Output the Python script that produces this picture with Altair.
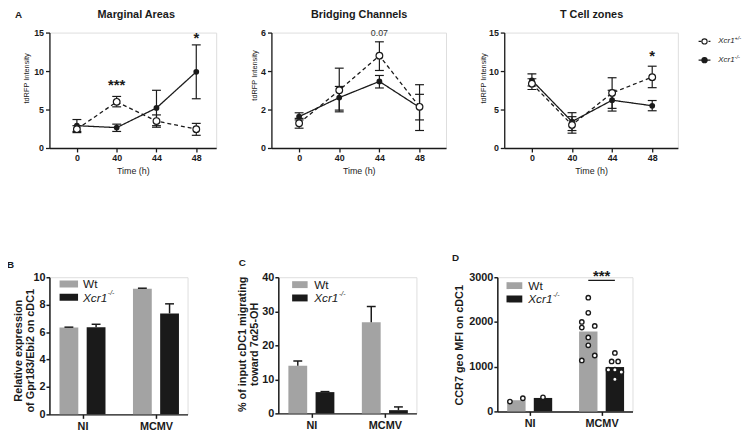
import json
import altair as alt
import pandas as pd

FONT = "Liberation Sans"
INK = "#1a1a1a"
GREY = "#a3a3a3"

# ---------------- Panel A data ----------------
TIME_LABELS = ["0", "40", "44", "48"]
SERIES = ["Xcr1+/-", "Xcr1-/-"]

ma_het_mean = [2.45, 6.0, 3.5, 2.45]
ma_het_low = [2.0, 5.35, 2.7, 1.65]
ma_het_high = [2.9, 6.7, 4.3, 3.2]
ma_ko_mean = [2.9, 2.65, 5.2, 9.9]
ma_ko_low = [2.15, 2.15, 2.9, 6.4]
ma_ko_high = [3.7, 3.1, 7.5, 13.4]

bc_het_mean = [1.29, 3.0, 4.8, 2.14]
bc_het_low = [1.03, 1.88, 4.03, 0.91]
bc_het_high = [1.54, 4.15, 5.52, 3.29]
bc_ko_mean = [1.63, 2.62, 3.46, 2.11]
bc_ko_low = [1.46, 1.97, 3.12, 1.46]
bc_ko_high = [1.83, 3.2, 3.77, 2.79]

tc_het_mean = [8.36, 3.0, 7.16, 9.21]
tc_het_low = [7.6, 1.93, 5.15, 7.84]
tc_het_high = [9.0, 4.07, 9.13, 10.63]
tc_ko_mean = [8.79, 3.43, 6.21, 5.49]
tc_ko_low = [8.06, 2.27, 4.8, 4.84]
tc_ko_high = [9.64, 4.59, 7.5, 6.17]

ma_notes = ["***", "*"]
ma_note_time = [1, 3]
ma_note_val = [8.7, 14.8]
bc_notes = ["0.07"]
bc_note_time = [2]
bc_note_val = [5.95]
tc_notes = ["*"]
tc_note_time = [3]
tc_note_val = [12.4]

# ---------------- Panels B-D data ----------------
GROUPS = ["NI", "MCMV"]
GENOS = ["Wt", "Xcr1-/-"]
# order: NI-Wt, NI-Xcr1, MCMV-Wt, MCMV-Xcr1
b_mean = [6.33, 6.35, 9.16, 7.36]
b_sem = [0.03, 0.22, 0.04, 0.70]
c_mean = [14.0, 6.25, 26.8, 0.95]
c_sem = [1.4, 0.15, 4.6, 0.95]
d_mean = [250, 301, 1786, 992]
d_ni_wt = [220, 294]
d_ni_ko = [316]
d_mcmv_wt = [2543, 2205, 2000, 1911, 1874, 1654, 1477, 1250, 1139]
d_mcmv_ko = [1308, 1117, 1117, 933, 933, 882, 720]
# column of each dot inside its bar (-1 left, 0 centre, +1 right)
d_ni_wt_col = [-1, 1]
d_ni_ko_col = [0]
d_mcmv_wt_col = [0, 0, -1, 1, -1, 0, 0, 1, -1]
d_mcmv_ko_col = [0, -0.5, 0.5, -1, 0, 1, 0]
d_sig = "***"
d_sig_val = 2930

ONE = pd.DataFrame({"k": [0]})


def text(t, x, y, size, weight="normal", style="normal", align="left", baseline="alphabetic", color=INK, angle=0):
    return alt.Chart(ONE).mark_text(
        text=t, fontSize=size, fontWeight=weight, fontStyle=style, align=align,
        baseline=baseline, color=color, font=FONT, angle=angle
    ).encode(x=alt.value(x), y=alt.value(y))


def long_df(hm, hl, hh, km, kl, kh):
    rows = []
    for i in range(len(TIME_LABELS)):
        rows.append({"i": i, "geno": SERIES[0], "mean": hm[i], "lo": hl[i], "hi": hh[i]})
        rows.append({"i": i, "geno": SERIES[1], "mean": km[i], "lo": kl[i], "hi": kh[i]})
    return pd.DataFrame(rows)


def top_panel(title, df, ymax, ystep, width, xmax, tx, ttx, tty, notes, note_t, note_v,
              letter=None, legend=False):
    xs = alt.Scale(domain=[-0.69, xmax], nice=False, zero=False)
    ys = alt.Scale(domain=[0, ymax], nice=False)
    xax = alt.Axis(values=[0, 1, 2, 3], labelExpr=json.dumps(TIME_LABELS) + "[datum.value]",
                   title="Time (h)", titleFontSize=9, titleFontWeight="normal", titleY=23,
                   titleBaseline="middle", labelFontSize=9, labelFontWeight="bold", tickSize=4,
                   labelPadding=1.5, grid=False, domainColor=INK, tickColor=INK, domainWidth=1.3,
                   tickWidth=1.3, labelColor=INK, titleColor=INK, labelFlush=False)
    yax = alt.Axis(values=list(range(0, ymax + 1, ystep)), title="tdRFP Intensity", format="d",
                   titleFontSize=7.5, titleFontWeight="normal", titleX=ttx, titleY=tty,
                   titleBaseline="middle", titleAlign="center", titleAngle=270,
                   labelFontSize=9, labelFontWeight="bold", tickSize=4, labelPadding=2,
                   grid=False, domainColor=INK, tickColor=INK, domainWidth=1.3, tickWidth=1.3,
                   labelColor=INK, titleColor=INK)
    X = alt.X("i:Q", scale=xs, axis=xax)
    base = alt.Chart(df)
    err = base.mark_rule(color=INK, strokeWidth=1.2).encode(
        x=X, y=alt.Y("lo:Q", scale=ys, axis=yax), y2="hi:Q")
    cap_lo = base.mark_tick(orient="horizontal", size=9, thickness=1.2, color=INK, opacity=1).encode(
        x=X, y=alt.Y("lo:Q", scale=ys, axis=yax))
    cap_hi = base.mark_tick(orient="horizontal", size=9, thickness=1.2, color=INK, opacity=1).encode(
        x=X, y=alt.Y("hi:Q", scale=ys, axis=yax))
    line = base.mark_line(color=INK, strokeWidth=1.3).encode(
        x=X, y=alt.Y("mean:Q", scale=ys, axis=yax),
        strokeDash=alt.StrokeDash("geno:N", scale=alt.Scale(domain=SERIES, range=[[4, 3], [1, 0]]),
                                  legend=None))
    ko = base.transform_filter(alt.datum.geno == SERIES[1]).mark_circle(
        color=INK, size=34, opacity=1).encode(x=X, y=alt.Y("mean:Q", scale=ys, axis=yax))
    het = base.transform_filter(alt.datum.geno == SERIES[0]).mark_circle(
        fill="white", stroke=INK, strokeWidth=1.2, size=46, opacity=1).encode(
        x=X, y=alt.Y("mean:Q", scale=ys, axis=yax))
    ndf = pd.DataFrame({"i": note_t, "v": note_v, "t": notes})
    stars = alt.Chart(ndf).transform_filter("indexof(datum.t, '*') >= 0").mark_text(
        fontSize=15, fontWeight="bold", color=INK, baseline="middle", dy=4, font=FONT).encode(
        x=X, y=alt.Y("v:Q", scale=ys, axis=yax), text="t:N")
    other = alt.Chart(ndf).transform_filter("indexof(datum.t, '*') < 0").mark_text(
        fontSize=9, color="#333333", baseline="middle", font=FONT).encode(
        x=X, y=alt.Y("v:Q", scale=ys, axis=yax), text="t:N")
    layers = [err, cap_lo, cap_hi, line, ko, het, stars, other,
              text(title, tx, -14.5, 11, weight="bold", align="center")]
    if letter:
        layers.append(text(letter, -35, -14.3, 10, weight="bold"))
    if legend:
        for r, (dash, fill) in enumerate([([3, 2], "white"), ([1, 0], INK)]):
            yy = 9 + 19 * r
            layers.append(alt.Chart(ONE).mark_rule(color=INK, strokeWidth=1.2, strokeDash=dash).encode(
                x=alt.value(197), x2=alt.value(209), y=alt.value(yy)))
            layers.append(alt.Chart(ONE).mark_circle(fill=fill, stroke=INK, strokeWidth=1.1, size=28,
                                                     opacity=1).encode(x=alt.value(203), y=alt.value(yy)))
            layers.append(text(SERIES[r][:4], 217, yy, 8, style="italic", baseline="middle"))
            layers.append(text(SERIES[r][4:], 233.5, yy - 3, 5.5, style="italic", baseline="middle"))
    return alt.layer(*layers).properties(width=width, height=117)


def bar_df(mean, sem):
    rows = []
    for g in range(2):
        for k in range(2):
            rows.append({"g": g, "k": k, "geno": GENOS[k], "mean": mean[2 * g + k],
                         "sem": sem[2 * g + k] if sem else 0})
    return pd.DataFrame(rows)


def bottom_panel(mean, sem, ymax, ystep, ytitle, width, height, letter, letter_x, letter_y,
                 ttx, tty, leg, dots=None, sig=None, spacer=None):
    xs = alt.Scale(domain=[-0.45, 1.43], nice=False, zero=False)
    ys = alt.Scale(domain=[0, ymax], nice=False)
    xax = alt.Axis(values=[0, 1], labelExpr=json.dumps(GROUPS) + "[datum.value]", title=None,
                   labelFontSize=11, labelFontWeight="bold", tickSize=4, labelPadding=2, grid=False,
                   domainColor=INK, tickColor=INK, domainWidth=1.5, tickWidth=1.5, labelColor=INK,
                   labelFlush=False)
    yax = alt.Axis(values=list(range(0, ymax + 1, ystep)), title=ytitle, titleFontSize=11, format="d",
                   titleFontWeight="bold", titleX=ttx, titleY=tty, titleBaseline="middle",
                   titleAlign="center", titleAngle=270, titleLineHeight=12.3,
                   labelFontSize=11, labelFontWeight="bold", tickSize=3.5, labelPadding=1,
                   grid=False, domainColor=INK, tickColor=INK, domainWidth=1.5, tickWidth=1.5,
                   labelColor=INK, titleColor=INK)
    df = bar_df(mean, sem)
    base = alt.Chart(df).transform_calculate(
        c="datum.g + (datum.k - 0.5) * 0.37",
        x0="datum.g + (datum.k - 0.5) * 0.37 - 0.128",
        x1="datum.g + (datum.k - 0.5) * 0.37 + 0.128",
        top="datum.mean + datum.sem")
    bars = base.mark_bar().encode(
        x=alt.X("x0:Q", scale=xs, axis=xax), x2="x1:Q",
        y=alt.Y("mean:Q", scale=ys, axis=yax), y2=alt.datum(0),
        fill=alt.Fill("geno:N", scale=alt.Scale(domain=GENOS, range=[GREY, INK]), legend=None))
    layers = [bars]
    if sem:
        layers.append(base.mark_rule(color=INK, strokeWidth=1.5).encode(
            x=alt.X("c:Q", scale=xs, axis=xax), y=alt.Y("mean:Q", scale=ys, axis=yax), y2="top:Q"))
        layers.append(base.mark_tick(orient="horizontal", size=9, thickness=1.5, color=INK,
                                     opacity=1).encode(
            x=alt.X("c:Q", scale=xs, axis=xax), y=alt.Y("top:Q", scale=ys, axis=yax)))
    if dots is not None:
        layers.append(alt.Chart(dots).transform_calculate(
            dx="datum.g + (datum.k - 0.5) * 0.37 + datum.col * 0.09").mark_circle(
            fill="white", stroke=INK, strokeWidth=1.4, size=20, opacity=1).encode(
            x=alt.X("dx:Q", scale=xs, axis=xax), y=alt.Y("v:Q", scale=ys, axis=yax)))
    if sig is not None:
        sdf = pd.DataFrame({"g": [1], "v": [sig[1]], "t": [sig[0]]})
        sb = alt.Chart(sdf).transform_calculate(a="datum.g - 0.185", b="datum.g + 0.185")
        layers.append(sb.mark_rule(color=INK, strokeWidth=1.3).encode(
            x=alt.X("a:Q", scale=xs, axis=xax), x2="b:Q", y=alt.Y("v:Q", scale=ys, axis=yax)))
        layers.append(sb.mark_text(fontSize=15, fontWeight="bold", color=INK, dy=1, font=FONT,
                                   baseline="alphabetic").encode(
            x=alt.X("g:Q", scale=xs, axis=xax), y=alt.Y("v:Q", scale=ys, axis=yax), text="t:N"))
    # inline legend
    rx0, rx1, ry, tx = leg
    for k, col in enumerate([GREY, INK]):
        y0 = ry + 13.5 * k
        layers.append(alt.Chart(ONE).mark_rect(color=col).encode(
            x=alt.value(rx0), x2=alt.value(rx1), y=alt.value(y0), y2=alt.value(y0 + 7)))
        if k == 0:
            layers.append(text(GENOS[0], tx, y0 + 3.8, 12, baseline="middle"))
        else:
            layers.append(text(GENOS[1][:4], tx, y0 + 3.8, 12, style="italic", baseline="middle"))
            layers.append(text(GENOS[1][4:], tx + 25.2, y0 - 0.5, 7, style="italic", baseline="middle"))
    layers.append(text(letter, letter_x, letter_y, 10, weight="bold"))
    if spacer is not None:
        layers.append(alt.Chart(ONE).mark_rule(color="white", strokeWidth=0.5).encode(
            x=alt.value(spacer), y=alt.value(0), y2=alt.value(5)))
    return alt.layer(*layers).properties(width=width, height=height)


p1 = top_panel("Marginal Areas",
               long_df(ma_het_mean, ma_het_low, ma_het_high, ma_ko_mean, ma_ko_low, ma_ko_high),
               15, 5, 169, 3.5, 88, -23, 46, ma_notes, ma_note_time, ma_note_val, letter="A")
p2 = top_panel("Bridging Channels",
               long_df(bc_het_mean, bc_het_low, bc_het_high, bc_ko_mean, bc_ko_low, bc_ko_high),
               6, 2, 177, 3.66, 89, -17, 43, bc_notes, bc_note_time, bc_note_val)
p3 = top_panel("T Cell zones",
               long_df(tc_het_mean, tc_het_low, tc_het_high, tc_ko_mean, tc_ko_low, tc_ko_high),
               15, 5, 176, 3.64, 88.5, -20.5, 46, tc_notes, tc_note_time, tc_note_val, legend=True)

dots_rows = []
for g, k, vals, cols in [(0, 0, d_ni_wt, d_ni_wt_col), (0, 1, d_ni_ko, d_ni_ko_col),
                         (1, 0, d_mcmv_wt, d_mcmv_wt_col), (1, 1, d_mcmv_ko, d_mcmv_ko_col)]:
    for v, c in zip(vals, cols):
        dots_rows.append({"g": g, "k": k, "v": v, "col": c})
dots_df = pd.DataFrame(dots_rows)

pb = bottom_panel(b_mean, b_sem, 10, 2, ["Relative expression", "of Gpr183/Ebi2 on cDC1"],
                  140, 139, "B", -43, -9, -31, 74, (10.3, 29, 3.3, 34))
pc = bottom_panel(c_mean, c_sem, 40, 10, ["% of input cDC1 migrating", "toward 7\u03b125-OH"],
                  140, 138, "C", -40, -11, -36, 67.5, (14, 29.7, 4, 36.3), spacer=-55.6)
pd_ = bottom_panel(d_mean, None, 3000, 1000, "CCR7 geo  MFI on cDC1",
                   137, 136, "D", -46, -16, -38.5, 68.5, (9.3, 25.3, 5, 31.3),
                   dots=dots_df, sig=(d_sig, d_sig_val))

PAD = {"left": -2, "top": -2, "right": 0, "bottom": 0}
chart = alt.vconcat(
    alt.hconcat(p1, p2, p3, spacing=33),
    alt.hconcat(pb, pc, pd_, spacing=34),
    spacing=77,
).properties(padding=PAD).configure_view(stroke=None).configure(font=FONT, padding=PAD)

chart.save("out.html", embed_options={"renderer": "svg", "actions": False})
